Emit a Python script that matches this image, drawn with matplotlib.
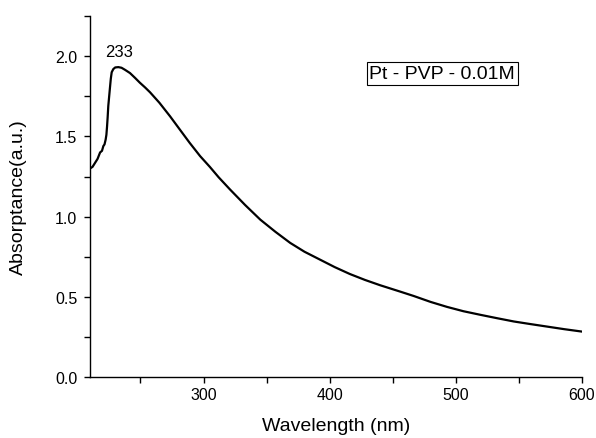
import matplotlib.pyplot as plt
from matplotlib.ticker import MultipleLocator

plt.rcParams.update({
    "font.family": ["Liberation Sans", "DejaVu Sans"],
    "font.size": 11.5,
    "axes.spines.top": False, "axes.spines.right": False,
})

# spectrum (wavelength nm, absorptance a.u.)
wavelength = [210, 212, 214, 216, 218, 219.5, 220.6, 221.5, 222.4, 223.0, 223.5,
              224.0, 224.5, 225.2, 225.9, 226.5, 227.2, 228.5, 230, 232.5, 235,
              237.8, 241.7, 245.7, 249.5, 253.7, 257.6, 265, 273.5, 281, 289,
              297.3, 305, 312, 321, 333, 345, 357, 368.7, 380, 392.5, 404, 416,
              428, 440, 456, 466.6, 480, 493, 506, 519.5, 533, 546, 559, 572.5,
              586, 600]
absorptance = [1.30, 1.31, 1.335, 1.36, 1.40, 1.41, 1.44, 1.45, 1.48, 1.51, 1.56,
               1.62, 1.69, 1.75, 1.81, 1.86, 1.90, 1.92, 1.93, 1.932, 1.928,
               1.915, 1.895, 1.865, 1.835, 1.805, 1.775, 1.71, 1.625, 1.545, 1.46,
               1.377, 1.31, 1.245, 1.169, 1.072, 0.981, 0.905, 0.836, 0.781, 0.731,
               0.685, 0.642, 0.605, 0.572, 0.532, 0.505, 0.468, 0.437, 0.410,
               0.3875, 0.366, 0.346, 0.330, 0.314, 0.298, 0.283]

peak_label = "233"
sample_label = "Pt - PVP - 0.01M"

fig = plt.figure(figsize=(5.96, 4.39), dpi=100)
ax = fig.add_axes([0.151, 0.139, 0.8255, 0.822])
ax.plot(wavelength, absorptance, color="black", lw=1.6)

ax.set_xlim(210, 600)
ax.set_ylim(0, 2.25)
ax.xaxis.set_major_locator(MultipleLocator(100))
ax.xaxis.set_minor_locator(MultipleLocator(50))
ax.yaxis.set_major_locator(MultipleLocator(0.5))
ax.yaxis.set_minor_locator(MultipleLocator(0.25))
ax.yaxis.set_major_formatter(lambda v, _: f"{v:.1f}")
ax.tick_params(which="both", direction="out", length=4, width=1)
ax.tick_params(axis="y", which="major", pad=5)
for s in ("left", "bottom"):
    ax.spines[s].set_linewidth(1)

ax.set_xlabel("Wavelength (nm)", fontsize=14)
ax.set_ylabel("Absorptance(a.u.)", fontsize=14)
ax.xaxis.set_label_coords(0.5, -0.112)
ax.yaxis.set_label_coords(-0.128, 0.5)

ax.text(233, 2.03, peak_label, ha="center", va="center", fontsize=12)
ax.text(0.568, 0.842, sample_label, transform=ax.transAxes, fontsize=14,
        ha="left", va="center",
        bbox=dict(boxstyle="square,pad=0.15", fc="white", ec="black", lw=0.8))

fig.savefig("out.png", dpi=100)
